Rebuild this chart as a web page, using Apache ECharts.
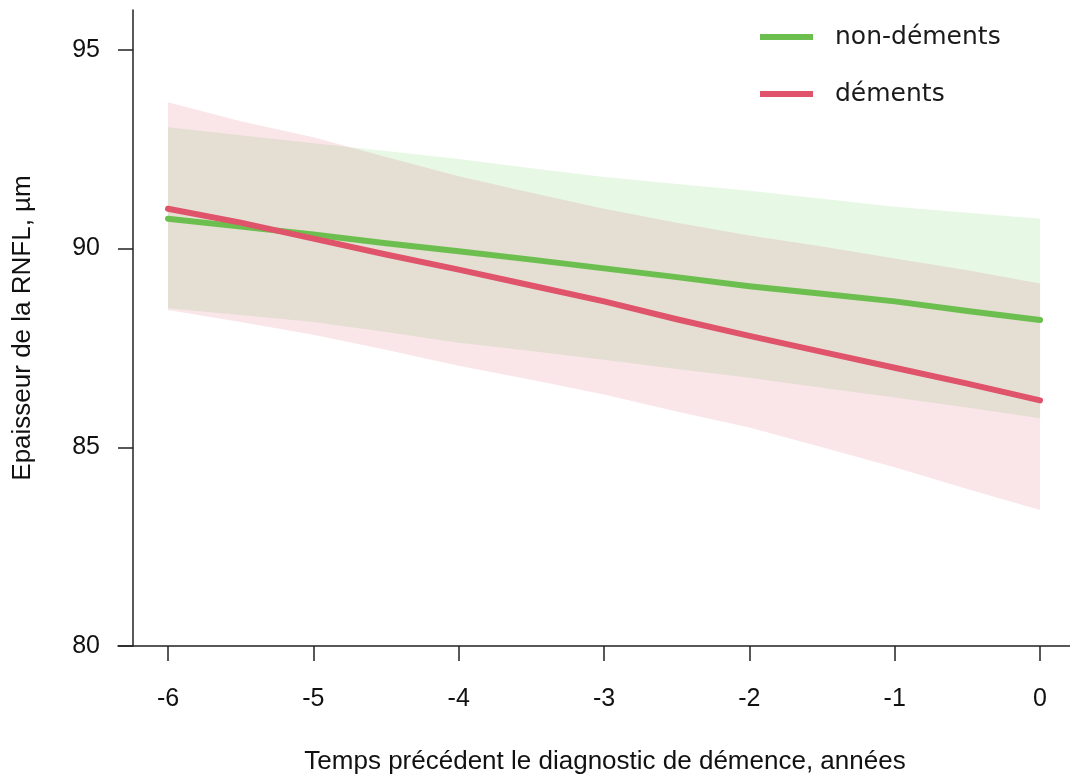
<!DOCTYPE html>
<html><head><meta charset="utf-8">
<script src="https://cdn.jsdelivr.net/npm/echarts@6/dist/echarts.min.js"></script>
<style>html,body{margin:0;padding:0;background:#fff}#c{width:1070px;height:780px}</style>
</head><body><div id="c"></div>
<script>
// Years before dementia diagnosis
const years = [-6, -5.5, -5, -4.5, -4, -3.5, -3, -2.5, -2, -1.5, -1, -0.5, 0];
// Non-demented: fitted RNFL thickness and confidence band
const nonDementsFit   = [90.75, 90.55, 90.35, 90.13, 89.93, 89.72, 89.50, 89.28, 89.05, 88.86, 88.67, 88.43, 88.20];
const nonDementsUpper = [93.05, 92.85, 92.65, 92.45, 92.25, 92.02, 91.80, 91.62, 91.45, 91.25, 91.05, 90.90, 90.75];
const nonDementsLower = [88.50, 88.33, 88.15, 87.90, 87.63, 87.42, 87.20, 86.97, 86.75, 86.50, 86.25, 86.00, 85.73];
// Demented: fitted RNFL thickness and confidence band
const dementsFit   = [91.00, 90.65, 90.25, 89.85, 89.47, 89.07, 88.67, 88.22, 87.80, 87.40, 87.00, 86.60, 86.18];
const dementsUpper = [93.68, 93.20, 92.80, 92.30, 91.82, 91.40, 91.00, 90.65, 90.33, 90.05, 89.75, 89.45, 89.12];
const dementsLower = [88.45, 88.15, 87.83, 87.45, 87.05, 86.70, 86.33, 85.90, 85.50, 85.00, 84.50, 83.95, 83.42];
// Tick labels
const xTicks = [-6, -5, -4, -3, -2, -1, 0];
const yTicks = [80, 85, 90, 95];
const seriesNames = ['non-déments', 'déments'];
const xTitle = 'Temps précédent le diagnostic de démence, années';
const yTitle = 'Epaisseur de la RNFL, µm';

const GREEN = '#6cbf4f';
const RED = '#df536b';
const FONT = 'Liberation Sans, Arial, sans-serif';

const pairs = (vals) => years.map((x, i) => [x, vals[i]]);

function bandSeries(lower, upper, color, z) {
  return {
    type: 'custom', silent: true, z: z,
    data: years.map((x, i) => [x, lower[i], upper[i]]),
    encode: { x: 0, y: [1, 2] },
    renderItem: function (params, api) {
      if (params.dataIndex !== 0) return null;
      const pts = [];
      for (let i = 0; i < years.length; i++) pts.push(api.coord([years[i], upper[i]]));
      for (let i = years.length - 1; i >= 0; i--) pts.push(api.coord([years[i], lower[i]]));
      return { type: 'polygon', shape: { points: pts }, style: { fill: color, stroke: null } };
    }
  };
}

const chart = echarts.init(document.getElementById('c'), null, { renderer: 'canvas' });
chart.setOption({
  animation: false,
  backgroundColor: '#fff',
  grid: { left: 118, right: 0, top: 10, bottom: 130, containLabel: false },
  legend: {
    data: seriesNames,
    orient: 'vertical',
    left: 755, top: 17,
    itemWidth: 53, itemHeight: 6, itemGap: 27,
    icon: 'rect',
    textStyle: { fontFamily: 'DejaVu Sans', fontSize: 25, color: '#1a1a1a', lineHeight: 30, padding: [0, 0, 0, 17] }
  },
  xAxis: {
    type: 'value', min: -6.344, max: 0.206,
    splitLine: { show: false },
    axisLine: { show: true, onZero: false, lineStyle: { color: '#222', width: 1.5 } },
    axisTick: { show: true, length: 15, customValues: xTicks, lineStyle: { color: '#222', width: 1.5 } },
    axisLabel: { customValues: xTicks, fontSize: 25, color: '#111', fontFamily: FONT, margin: 41 },
    name: xTitle, nameLocation: 'middle', nameGap: 103,
    nameTextStyle: { fontSize: 26, color: '#111', fontFamily: FONT, padding: [0, 0, 0, 22] }
  },
  yAxis: {
    type: 'value', min: 80, max: 96, offset: -15,
    splitLine: { show: false },
    axisLine: { show: true, onZero: false, lineStyle: { color: '#222', width: 1.5 } },
    axisTick: { show: true, length: 15, customValues: yTicks, lineStyle: { color: '#222', width: 1.5 } },
    axisLabel: { customValues: yTicks, fontSize: 25, color: '#111', fontFamily: FONT, margin: 33, padding: [6, 0, 0, 0] },
    name: yTitle, nameLocation: 'middle', nameGap: 97, nameRotate: 90,
    nameTextStyle: { fontSize: 26, color: '#111', fontFamily: FONT }
  },
  series: [
    bandSeries(nonDementsLower, nonDementsUpper, 'rgba(97,208,79,0.15)', 1),
    bandSeries(dementsLower, dementsUpper, 'rgba(223,83,107,0.15)', 2),
    { name: seriesNames[0], type: 'line', data: pairs(nonDementsFit), showSymbol: false, color: GREEN,
      lineStyle: { color: GREEN, width: 6, cap: 'round', join: 'round' }, z: 3 },
    { name: seriesNames[1], type: 'line', data: pairs(dementsFit), showSymbol: false, color: RED,
      lineStyle: { color: RED, width: 6, cap: 'round', join: 'round' }, z: 4 }
  ]
});
</script>
</body></html>
